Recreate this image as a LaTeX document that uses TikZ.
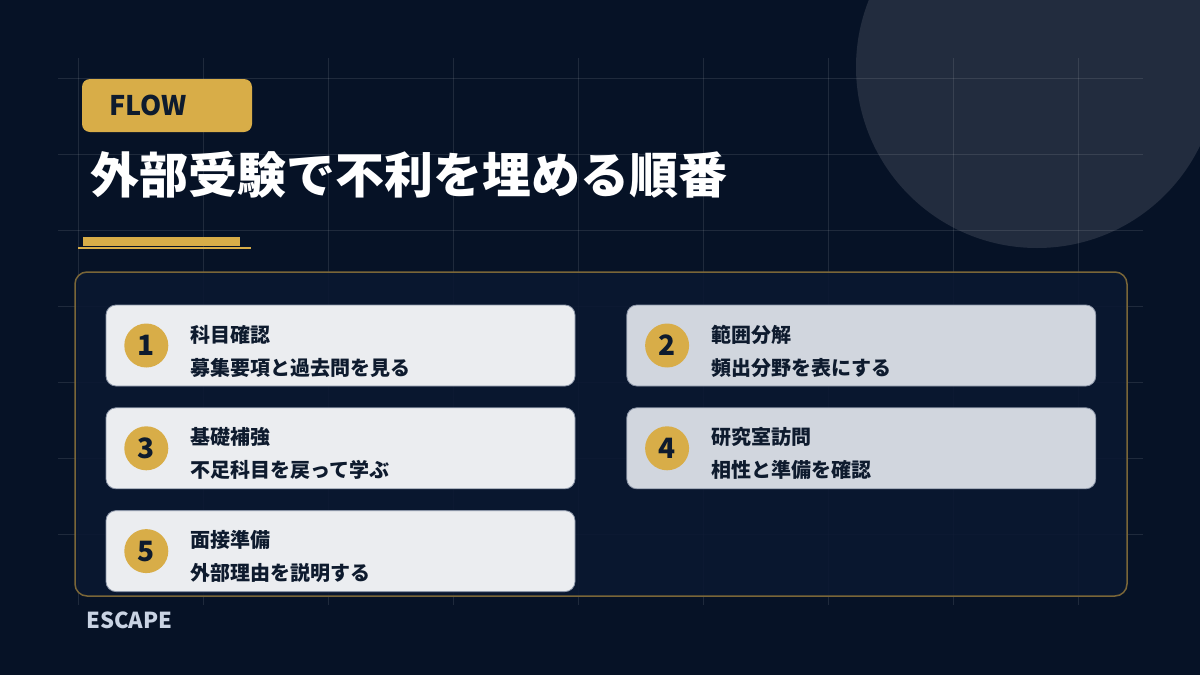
\documentclass[tikz,border=0pt]{standalone}
\usepackage{fontspec}
\setmainfont{Noto Sans CJK JP}
\usetikzlibrary{positioning,calc}

\definecolor{bgnavy}{HTML}{061226}
\definecolor{orb}{HTML}{222C3E}
\definecolor{panelnavy}{HTML}{0A1831}
\definecolor{paneledge}{HTML}{7A6638}
\definecolor{gold}{HTML}{D8AD48}
\definecolor{cardlight}{HTML}{EBEDF0}
\definecolor{cardgrey}{HTML}{D1D6DE}
\definecolor{cardedge}{HTML}{8A94A6}
\definecolor{inkdark}{HTML}{0E1B2E}
\definecolor{brandgrey}{HTML}{C9D3E3}

\begin{document}
\begin{tikzpicture}[x=1pt,y=-1pt,
  gridline/.style={white, opacity=0.1, line width=1pt},
  card/.style={draw=cardedge, line width=0.8pt, rounded corners=10pt, minimum width=469pt, minimum height=81pt, inner sep=0pt},
  cardL/.style={card, fill=cardlight},
  cardR/.style={card, fill=cardgrey},
  numdot/.style={circle, fill=gold, minimum size=44pt, inner sep=0pt, text=inkdark, font=\fontsize{28}{28}\selectfont\bfseries},
  steptitle/.style={anchor=west, inner sep=0pt, text=inkdark, font=\fontsize{20}{20}\selectfont\bfseries},
  stepnote/.style={steptitle}]

  \useasboundingbox (0,0) rectangle (1200,675);
  \fill[bgnavy] (0,0) rectangle (1200,675);
  \fill[orb] (1037,67) circle (181);

  % grid
  \foreach \x in {78,203,...,1078} \draw[gridline] (\x,58) -- (\x,605);
  \foreach \y in {78,154,...,534} \draw[gridline] (58,\y) -- (1143,\y);

  % header
  \node[fill=gold, rounded corners=8pt, minimum width=170pt, minimum height=53pt, inner sep=0pt] (flow) at (167,105.5) {};
  \node[right=27pt of flow.west, inner sep=0pt, text=inkdark, font=\fontsize{27}{27}\selectfont\bfseries] (flowlbl) {FLOW};
  \node[anchor=west, inner sep=0pt, text=white, font=\fontsize{49}{49}\selectfont\bfseries] (head) at (90,175) {外部受験で不利を埋める順番};
  \fill[gold] (83,237) rectangle (240,246);
  \fill[gold] (78,247) rectangle (251,249);

  % panel
  \draw[paneledge, line width=1.5pt, fill=panelnavy, fill opacity=0.9, rounded corners=12pt] (75,272) rectangle (1127,596);

  % steps
  \node[cardL] (card1) at (340.5,345.5) {};
  \node[cardR, right=51pt of card1] (card2) {};
  \node[cardL, below=21pt of card1] (card3) {};
  \node[cardR, below=21pt of card2] (card4) {};
  \node[cardL, below=21pt of card3] (card5) {};

  \node[numdot, right=18.5pt of card1.west] (n1) {1};
  \node[numdot, right=18.5pt of card2.west] (n2) {2};
  \node[numdot, right=18.5pt of card3.west] (n3) {3};
  \node[numdot, right=18.5pt of card4.west] (n4) {4};
  \node[numdot, right=18.5pt of card5.west] (n5) {5};

  \node[steptitle] (t1) at ($(card1.west)+(85,-11)$) {科目確認};
  \node[stepnote] (s1) at ($(card1.west)+(85,22)$) {募集要項と過去問を見る};
  \node[steptitle] (t2) at ($(card2.west)+(85,-11)$) {範囲分解};
  \node[stepnote] (s2) at ($(card2.west)+(85,22)$) {頻出分野を表にする};
  \node[steptitle] (t3) at ($(card3.west)+(85,-11)$) {基礎補強};
  \node[stepnote] (s3) at ($(card3.west)+(85,22)$) {不足科目を戻って学ぶ};
  \node[steptitle] (t4) at ($(card4.west)+(85,-11)$) {研究室訪問};
  \node[stepnote] (s4) at ($(card4.west)+(85,22)$) {相性と準備を確認};
  \node[steptitle] (t5) at ($(card5.west)+(85,-11)$) {面接準備};
  \node[stepnote] (s5) at ($(card5.west)+(85,22)$) {外部理由を説明する};

  % footer
  \node[anchor=west, inner sep=0pt, text=brandgrey, font=\fontsize{22}{22}\selectfont\bfseries] (brand) at (86,620) {ESCAPE};
\end{tikzpicture}
\end{document}
